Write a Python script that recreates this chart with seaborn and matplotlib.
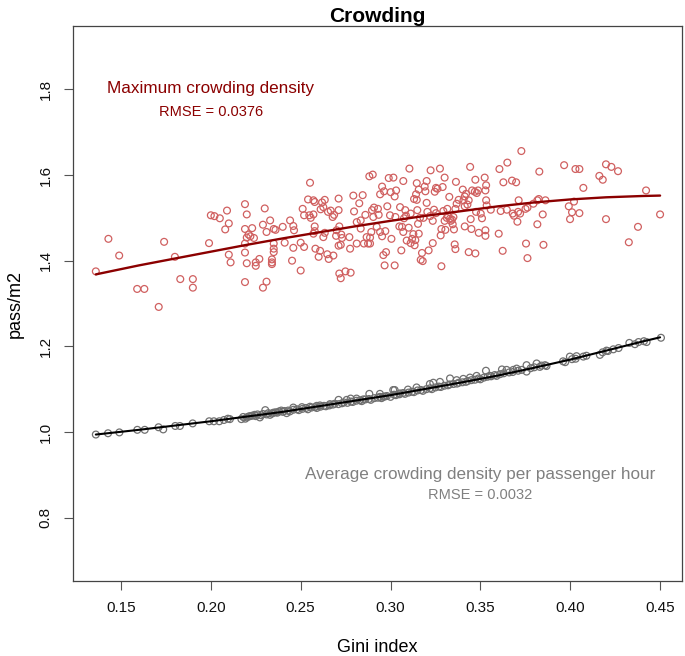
import matplotlib
matplotlib.use("Agg")
import matplotlib.pyplot as plt
import numpy as np
import pandas as pd
import seaborn as sns

# %% data
# maximum crowding density (red scatter)
max_gini = [
    0.136, 0.143, 0.149, 0.174, 0.180, 0.159, 0.163, 0.171, 0.183, 0.190, 0.190, 0.199,
    0.200, 0.202, 0.205, 0.209, 0.210, 0.208, 0.210, 0.211, 0.219, 0.220, 0.219, 0.223,
    0.221, 0.220, 0.222, 0.224, 0.219, 0.219, 0.220, 0.219, 0.225, 0.225, 0.227, 0.229,
    0.230, 0.233, 0.231, 0.235, 0.236, 0.235, 0.235, 0.235, 0.234, 0.234, 0.234, 0.231,
    0.229,
    0.2400, 0.2411, 0.2441, 0.2459, 0.2463, 0.2459, 0.2452, 0.2500, 0.2500, 0.2519, 0.2511, 0.2519,
    0.2541, 0.2552, 0.2548, 0.2556, 0.2571, 0.2578, 0.2571, 0.2578, 0.2578, 0.2571, 0.2582, 0.2600,
    0.2608, 0.2611, 0.2619, 0.2634, 0.2626, 0.2634, 0.2626, 0.2648, 0.2656, 0.2652, 0.2667, 0.2678,
    0.2686, 0.2682, 0.2700, 0.2697, 0.2711, 0.2711, 0.2715, 0.2726, 0.2723, 0.2711, 0.2715, 0.2723,
    0.2730, 0.2749, 0.2778, 0.2771, 0.2775, 0.2793, 0.2797, 0.2812, 0.2812, 0.2826, 0.2834, 0.2845,
    0.2834, 0.2852, 0.2860, 0.2867, 0.2875, 0.2886, 0.2886, 0.2882, 0.2901, 0.2897, 0.2904, 0.2893,
    0.2908, 0.2923, 0.2930, 0.2934, 0.2942, 0.2953, 0.2953, 0.2942, 0.2964, 0.2971, 0.2960, 0.2975,
    0.2967, 0.2982, 0.2990, 0.2997, 0.3001, 0.3016, 0.3005, 0.3023, 0.3023, 0.3031, 0.3027, 0.3053,
    0.3049, 0.3060, 0.3064, 0.3071, 0.3071, 0.3075, 0.3086, 0.3090, 0.3082, 0.3101, 0.3105, 0.3112,
    0.3112, 0.3127, 0.3120, 0.3131, 0.3134, 0.3138, 0.3146, 0.3142, 0.3146, 0.3149, 0.3157, 0.3153,
    0.3157, 0.3164, 0.3168, 0.3175, 0.3179, 0.3183, 0.3190, 0.3194, 0.3201, 0.3205, 0.3201, 0.3212,
    0.3223, 0.3220, 0.3235, 0.3235, 0.3242, 0.3246, 0.3253, 0.3253, 0.3261, 0.3275, 0.3279, 0.3283,
    0.3283, 0.3290, 0.3294, 0.3301, 0.3301, 0.3305, 0.3313, 0.3320, 0.3316, 0.3327, 0.3331, 0.3335,
    0.3342, 0.3346, 0.3350, 0.3353, 0.3361, 0.3364, 0.3357, 0.3361, 0.3368, 0.3379,
    0.3402, 0.3413, 0.3420, 0.3406, 0.3428, 0.3413, 0.3435, 0.3454, 0.3469, 0.3480, 0.3487, 0.3443,
    0.3472, 0.3524, 0.3532, 0.3528, 0.3532, 0.3535, 0.3502, 0.3476, 0.3509, 0.3446, 0.3558, 0.3413,
    0.3450, 0.3491, 0.3528, 0.3528, 0.3435, 0.3472, 0.3606, 0.3650, 0.3628, 0.3602, 0.3624, 0.3613,
    0.3647, 0.3676, 0.3699, 0.3728, 0.3713, 0.3680, 0.3687, 0.3710, 0.3721, 0.3706, 0.3751, 0.3762,
    0.3754, 0.3762, 0.3795, 0.3817, 0.3828, 0.3825, 0.3847, 0.3817, 0.3851, 0.3862, 0.3966, 0.3992,
    0.4021, 0.4029, 0.4051, 0.4010, 0.3999, 0.4051, 0.4073, 0.4162, 0.4181, 0.4199, 0.4229, 0.4266,
    0.4199, 0.4326, 0.4377, 0.4422, 0.4500,
]
max_density = [
    1.375, 1.451, 1.412, 1.444, 1.409, 1.334, 1.334, 1.292, 1.357, 1.357, 1.337, 1.441,
    1.506, 1.504, 1.499, 1.517, 1.487, 1.473, 1.414, 1.396, 1.532, 1.508, 1.474, 1.476,
    1.461, 1.454, 1.457, 1.453, 1.440, 1.419, 1.394, 1.350, 1.388, 1.396, 1.404, 1.484,
    1.522, 1.494, 1.467, 1.474, 1.472, 1.440, 1.428, 1.420, 1.403, 1.396, 1.392, 1.351,
    1.337,
    1.479, 1.442, 1.494, 1.481, 1.471, 1.430, 1.400, 1.377, 1.442, 1.432, 1.521, 1.506,
    1.543, 1.582, 1.506, 1.500, 1.541, 1.537, 1.508, 1.480, 1.469, 1.463, 1.428, 1.409,
    1.423, 1.520, 1.536, 1.542, 1.455, 1.465, 1.525, 1.415, 1.404, 1.514, 1.517, 1.502,
    1.507, 1.412, 1.471, 1.458, 1.518, 1.545, 1.480, 1.461, 1.437, 1.435, 1.370, 1.359,
    1.453, 1.375, 1.372, 1.455, 1.428, 1.552, 1.515, 1.440, 1.490, 1.534, 1.475, 1.553,
    1.494, 1.440, 1.507, 1.455, 1.440, 1.440, 1.454, 1.597, 1.601, 1.518, 1.502, 1.467,
    1.524, 1.479, 1.521, 1.507, 1.555, 1.573, 1.457, 1.467, 1.562, 1.469, 1.413, 1.420,
    1.389, 1.527, 1.593, 1.506, 1.560, 1.594, 1.451, 1.389, 1.550, 1.564, 1.502, 1.525,
    1.480, 1.424, 1.479, 1.586, 1.467, 1.499, 1.505, 1.447, 1.518, 1.477, 1.615, 1.510,
    1.441, 1.462, 1.451, 1.544, 1.436, 1.448, 1.581, 1.555, 1.542, 1.518, 1.566, 1.486,
    1.463, 1.500, 1.402, 1.418, 1.399, 1.500, 1.573, 1.562, 1.586, 1.514, 1.535, 1.424,
    1.611, 1.504, 1.493, 1.441, 1.519, 1.561, 1.511, 1.570, 1.568, 1.615, 1.459, 1.474,
    1.387, 1.572, 1.516, 1.594, 1.493, 1.472, 1.500, 1.504, 1.521, 1.549, 1.498, 1.493,
    1.496, 1.485, 1.502, 1.473, 1.521, 1.584, 1.438, 1.427, 1.533, 1.542,
    1.566, 1.550, 1.556, 1.541, 1.531, 1.527, 1.541, 1.564, 1.561, 1.558, 1.564, 1.619,
    1.589, 1.594, 1.576, 1.564, 1.541, 1.529, 1.510, 1.514, 1.499, 1.497, 1.519, 1.480,
    1.474, 1.465, 1.471, 1.458, 1.420, 1.417, 1.614, 1.629, 1.583, 1.463, 1.423, 1.516,
    1.519, 1.587, 1.583, 1.656, 1.541, 1.510, 1.505, 1.514, 1.510, 1.491, 1.521, 1.524,
    1.440, 1.406, 1.533, 1.541, 1.608, 1.544, 1.508, 1.485, 1.437, 1.541, 1.623, 1.527,
    1.538, 1.614, 1.614, 1.513, 1.497, 1.511, 1.570, 1.598, 1.589, 1.625, 1.619, 1.609,
    1.497, 1.443, 1.479, 1.564, 1.508,
]

# average crowding density per passenger hour (grey scatter)
avg_gini = [
    0.136, 0.1428, 0.1491, 0.1591, 0.1632, 0.1709, 0.1735, 0.1802, 0.1828, 0.1899, 0.1991, 0.2017,
    0.2047, 0.2073, 0.2095, 0.2106,
    0.2192, 0.2218, 0.2244, 0.2273, 0.2303, 0.2329, 0.2348, 0.2392, 0.2422, 0.2459, 0.2507, 0.2552,
    0.2589, 0.2607, 0.2663, 0.2711, 0.2756, 0.2778, 0.2811, 0.2848, 0.2882, 0.2941, 0.3023,
    0.2941, 0.2960, 0.3015, 0.3052, 0.3097, 0.3145, 0.3219, 0.3238, 0.3275, 0.3331, 0.3368, 0.3405,
    0.3442, 0.3479, 0.3531, 0.3553, 0.3620, 0.3646, 0.3683, 0.3702, 0.3757, 0.3757, 0.3813, 0.3831,
    0.3868, 0.3972, 0.3998, 0.4035, 0.4073, 0.4165, 0.4202, 0.4240, 0.4269, 0.4329, 0.4380, 0.4425,
    0.4505,
    0.217, 0.218, 0.220, 0.221, 0.223, 0.225, 0.226, 0.228, 0.229, 0.231, 0.232, 0.234,
    0.236, 0.237, 0.238, 0.240, 0.241, 0.243, 0.244, 0.246, 0.248, 0.249, 0.251, 0.253,
    0.254, 0.256, 0.258, 0.259, 0.261, 0.263, 0.264, 0.266, 0.268, 0.269, 0.271, 0.273,
    0.274, 0.276, 0.278, 0.279, 0.281, 0.283, 0.284, 0.286, 0.288, 0.289, 0.291, 0.293,
    0.295, 0.297, 0.298, 0.300, 0.302, 0.303, 0.305, 0.307, 0.308, 0.310, 0.312, 0.313,
    0.315, 0.317, 0.318, 0.320, 0.322, 0.323, 0.325, 0.327, 0.328, 0.330, 0.332, 0.333,
    0.335, 0.337, 0.338, 0.340, 0.342, 0.343, 0.345, 0.347, 0.349, 0.350, 0.352, 0.354,
    0.356, 0.358, 0.359, 0.361, 0.363, 0.366, 0.368, 0.371, 0.373, 0.378, 0.380, 0.384,
    0.386, 0.396, 0.401, 0.403, 0.409, 0.418, 0.421, 0.436, 0.441,
]
avg_density = [
    0.994, 0.997, 0.999, 1.005, 1.005, 1.011, 1.006, 1.014, 1.014, 1.020, 1.025, 1.025,
    1.025, 1.028, 1.031, 1.030,
    1.031, 1.037, 1.040, 1.034, 1.051, 1.040, 1.045, 1.050, 1.044, 1.057, 1.058, 1.059,
    1.061, 1.062, 1.065, 1.075, 1.075, 1.078, 1.078, 1.076, 1.089, 1.089, 1.098,
    1.082, 1.082, 1.098, 1.090, 1.099, 1.104, 1.112, 1.115, 1.117, 1.125, 1.121, 1.124,
    1.127, 1.131, 1.143, 1.131, 1.146, 1.145, 1.145, 1.148, 1.156, 1.141, 1.160, 1.152,
    1.154, 1.163, 1.176, 1.177, 1.176, 1.180, 1.190, 1.193, 1.196, 1.208, 1.210, 1.210,
    1.220,
    1.030, 1.035, 1.034, 1.036, 1.038, 1.037, 1.041, 1.039, 1.042, 1.041, 1.044, 1.043,
    1.046, 1.045, 1.048, 1.047, 1.049, 1.050, 1.048, 1.052, 1.053, 1.051, 1.054, 1.056,
    1.053, 1.057, 1.058, 1.056, 1.059, 1.061, 1.060, 1.062, 1.064, 1.066, 1.065, 1.067,
    1.069, 1.068, 1.071, 1.070, 1.073, 1.074, 1.072, 1.076, 1.077, 1.075, 1.079, 1.080,
    1.079, 1.083, 1.084, 1.082, 1.087, 1.086, 1.088, 1.091, 1.089, 1.092, 1.094, 1.093,
    1.097, 1.098, 1.096, 1.100, 1.102, 1.100, 1.104, 1.106, 1.105, 1.108, 1.109, 1.111,
    1.112, 1.113, 1.115, 1.116, 1.117, 1.119, 1.121, 1.122, 1.125, 1.123, 1.127, 1.129,
    1.130, 1.133, 1.131, 1.135, 1.137, 1.139, 1.140, 1.143, 1.145, 1.149, 1.151, 1.155,
    1.156, 1.165, 1.170, 1.171, 1.178, 1.186, 1.189, 1.205, 1.212,
]

# fitted curves
fit_gini = [0.136, 0.16, 0.18, 0.20, 0.22, 0.24, 0.26, 0.28, 0.30, 0.32, 0.34, 0.36,
            0.38, 0.40, 0.42, 0.44, 0.45]
max_fit = [1.368, 1.389, 1.405, 1.421, 1.437, 1.452, 1.466, 1.480, 1.493, 1.505, 1.516,
           1.527, 1.536, 1.543, 1.548, 1.551, 1.552]
avg_fit = [0.994, 1.005, 1.015, 1.025, 1.036, 1.047, 1.060, 1.073, 1.086, 1.101, 1.116,
           1.132, 1.150, 1.169, 1.190, 1.211, 1.221]

x_ticks = [0.15, 0.20, 0.25, 0.30, 0.35, 0.40, 0.45]
y_ticks = [0.8, 1.0, 1.2, 1.4, 1.6, 1.8]

red_pts = '#d06060'
red_line = '#8b0000'
grey_pts = '#707070'
grey_txt = '#808080'

# %% plot
sns.set_style('ticks')
plt.rcParams['font.family'] = ['Liberation Sans', 'DejaVu Sans']

fig = plt.figure(figsize=(6.85, 6.56), dpi=100)
ax = fig.add_axes([73 / 685, 1 - 581 / 656, 609 / 685, 555 / 656])

sns.scatterplot(x=max_gini, y=max_density, ax=ax, marker='o', s=24,
                color=red_pts, facecolor='none', edgecolor=red_pts, linewidth=0.9)
sns.scatterplot(x=avg_gini, y=avg_density, ax=ax, marker='o', s=24,
                color=grey_pts, facecolor='none', edgecolor=grey_pts, linewidth=0.9)
sns.lineplot(x=fit_gini, y=max_fit, ax=ax, color=red_line, lw=1.7)
sns.lineplot(x=fit_gini, y=avg_fit, ax=ax, color='black', lw=1.5)

ax.text(0.20, 1.802, 'Maximum crowding density', color=red_line, fontsize=12.3,
        ha='center', va='center')
ax.text(0.20, 1.748, 'RMSE = 0.0376', color=red_line, fontsize=10.5,
        ha='center', va='center')
ax.text(0.35, 0.900, 'Average crowding density per passenger hour', color=grey_txt,
        fontsize=12.3, ha='center', va='center')
ax.text(0.35, 0.853, 'RMSE = 0.0032', color=grey_txt, fontsize=10.5,
        ha='center', va='center')

ax.set_xlim(0.1233, 0.4622)
ax.set_ylim(0.652, 1.948)
ax.set_xticks(x_ticks)
ax.set_xticklabels([f'{t:.2f}' for t in x_ticks])
ax.set_yticks(y_ticks)
ax.set_yticklabels([f'{t:.1f}' for t in y_ticks], rotation=90, va='center')
ax.tick_params(direction='out', length=6.5, width=0.8, color='#555555',
               labelsize=11, labelcolor='#111111', pad=8)

for sp in ax.spines.values():
    sp.set_color('#444444')
    sp.set_linewidth(0.9)

ax.set_xlabel('Gini index', fontsize=13, labelpad=17, color='black')
ax.set_ylabel('pass/m2', fontsize=13, labelpad=11, color='black')
ax.set_title('Crowding', fontsize=15, fontweight='bold', pad=3, color='black')

fig.savefig('out.png', dpi=100)
